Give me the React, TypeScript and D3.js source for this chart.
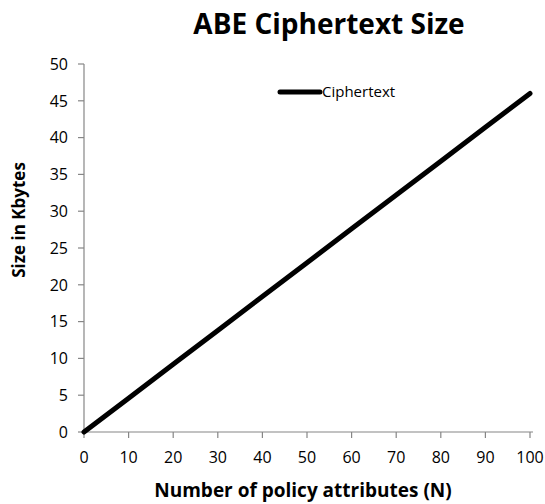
import React from "react";
import * as d3 from "d3";

// Ciphertext size (KB) against number of policy attributes
const attributes = [0, 10, 20, 30, 40, 50, 60, 70, 80, 90, 100];
const sizeKB = [0, 4.6, 9.2, 13.8, 18.4, 23.0, 27.6, 32.2, 36.8, 41.4, 46.0];
const xTicks = [0, 10, 20, 30, 40, 50, 60, 70, 80, 90, 100];
const yTicks = [0, 5, 10, 15, 20, 25, 30, 35, 40, 45, 50];

const title = "ABE Ciphertext Size";
const xLabel = "Number of policy attributes (N)";
const yLabel = "Size in Kbytes";
const seriesName = "Ciphertext";

const W = 545;
const H = 504;
const left = 84;
const right = 530;
const top = 64;
const bottom = 432;
const font = "'Open Sans', sans-serif";
const axisColor = "#868686";

export default function App() {
  const x = d3.scaleLinear().domain([0, 100]).range([left, right]);
  const y = d3.scaleLinear().domain([0, 50]).range([bottom, top]);
  const line = d3
    .line<number>()
    .x((_, i) => x(attributes[i]))
    .y((d) => y(d));

  return (
    <svg
      width={W}
      height={H}
      style={{ position: "absolute", left: 0, top: 0, background: "#fff" }}
    >
      <text
        x={329}
        y={34}
        textAnchor="middle"
        fontFamily={font}
        fontWeight="bold"
        fontSize={28}
        fill="#000"
      >
        {title}
      </text>

      {/* y axis */}
      <line x1={left} x2={left} y1={y(50)} y2={y(0)} stroke={axisColor} strokeWidth={1.2} />
      {yTicks.map((t) => (
        <g key={"y" + t}>
          <line x1={left - 6} x2={left} y1={y(t)} y2={y(t)} stroke={axisColor} strokeWidth={1.2} />
          <text
            x={left - 16}
            y={y(t)}
            dy="0.36em"
            textAnchor="end"
            fontFamily={font}
            fontSize={16}
            fill="#000"
          >
            {t}
          </text>
        </g>
      ))}

      {/* x axis */}
      <line x1={left} x2={right + 3} y1={bottom} y2={bottom} stroke={axisColor} strokeWidth={1.2} />
      {xTicks.map((t) => (
        <g key={"x" + t}>
          <line x1={x(t)} x2={x(t)} y1={bottom} y2={bottom + 6} stroke={axisColor} strokeWidth={1.2} />
          <text
            x={x(t)}
            y={463}
            textAnchor="middle"
            fontFamily={font}
            fontSize={16}
            fill="#000"
          >
            {t}
          </text>
        </g>
      ))}

      <text
        x={303}
        y={497}
        textAnchor="middle"
        fontFamily={font}
        fontWeight="bold"
        fontSize={19}
        fill="#000"
      >
        {xLabel}
      </text>
      <text
        transform={`translate(25,220) rotate(-90)`}
        textAnchor="middle"
        fontFamily={font}
        fontWeight="bold"
        fontSize={17}
        fill="#000"
      >
        {yLabel}
      </text>

      <path
        d={line(sizeKB) || ""}
        fill="none"
        stroke="#000"
        strokeWidth={5}
        strokeLinecap="round"
        strokeLinejoin="round"
      />

      {/* legend */}
      <line x1={280} x2={320} y1={92} y2={92} stroke="#000" strokeWidth={5} strokeLinecap="round" />
      <text x={322} y={92} dy="0.36em" fontFamily={font} fontSize={15} fill="#000">
        {seriesName}
      </text>
    </svg>
  );
}
